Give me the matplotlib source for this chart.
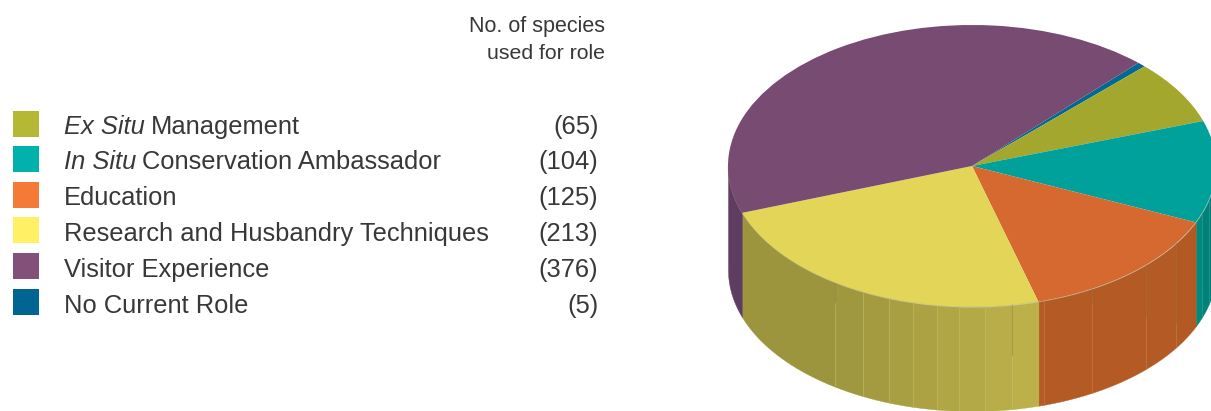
import numpy as np
import matplotlib
matplotlib.use("Agg")
import matplotlib.pyplot as plt
from matplotlib.patches import Rectangle

W, H = 1211, 411

# legend order
italic_parts = ["Ex Situ", "In Situ", "", "", "", ""]
plain_parts = ["Management", "Conservation Ambassador", "Education",
               "Research and Husbandry Techniques", "Visitor Experience", "No Current Role"]
species_counts = [65, 104, 125, 213, 376, 5]
legend_colors = ["#b5b835", "#00b2ab", "#f57a38", "#fff066", "#835079", "#006593"]

# pie order, clockwise from the thin slice
pie_order = [5, 0, 1, 2, 3, 4]
top_colors = {0: "#a4a72e", 1: "#00a19b", 2: "#d5692f", 3: "#e2d558", 4: "#774b72", 5: "#006a94"}
start_angle = 47.0

# ellipse of the pie top, in pixels
cx, cy, rx, ry = 972, 166, 244, 141
depth = 104 / ry

# facets on the front wall: slice -> (seam x in pixels, facet colours)
wall_facets = {
    1: ([1202, 1209], ["#00897f", "#008278", "#007d74"]),
    2: ([1044, 1092, 1146, 1176], ["#b65b24", "#b45a24", "#b45a24", "#b45a24", "#b25924"]),
    3: ([835, 863, 889, 913, 937, 959, 985, 1012],
        ["#9c953e", "#a0983f", "#a49b40", "#a89e42", "#aca243", "#b0a645", "#b4a947", "#b8ad48", "#bbb04a"]),
    4: ([], ["#5f3d60"]),
}
seam_colors = {1: "#2aa098", 2: "#c47a4c", 3: "#c4bb62", 4: "#5f3d60"}
# seams that start out dark below the rim, down to this pixel row
dark_seams = {835: 303, 1012: 355, 1092: 303, 1146: 317, 1176: 324}

fig = plt.figure(figsize=(W / 100, H / 100), dpi=100)
plt.rcParams["font.family"] = ["Liberation Sans", "DejaVu Sans"]

# pie axes: unit circle squashed into the ellipse, y measured upward
ax = fig.add_axes([0, 0, 1, 1])
ax.pie([species_counts[i] for i in pie_order], startangle=start_angle, counterclock=False,
       colors=[top_colors[i] for i in pie_order], wedgeprops={"linewidth": 0, "zorder": 5})
ax.set_aspect("auto")
ax.set_xlim(-cx / rx, (W - cx) / rx)
ax.set_ylim((cy - H) / ry, cy / ry)
ax.axis("off")


def px(x):
    return (x - cx) / rx


# slice boundaries on the ellipse
counts = np.array([species_counts[i] for i in pie_order], dtype=float)
ends = start_angle - np.cumsum(counts) / counts.sum() * 360
starts = np.r_[start_angle, ends[:-1]]

for slice_id, a0, a1 in zip(pie_order, starts, ends):
    if slice_id not in wall_facets:
        continue
    # the visitor slice only shows on the left, up to x=-1
    if slice_id == 4:
        x_start, x_end = -1.0, np.cos(np.radians(a0))
    else:
        x_start, x_end = np.cos(np.radians(a1)), np.cos(np.radians(a0))
        if slice_id == 1:
            x_end = 1.0
    seams, colors = wall_facets[slice_id]
    edges = [x_start] + [px(s) for s in seams] + [x_end]
    for left, right, c in zip(edges[:-1], edges[1:], colors):
        xs = np.linspace(left, right, 60)
        top = -np.sqrt(np.clip(1 - xs ** 2, 0, None))
        ax.fill_between(xs, top, top - depth, color=c, linewidth=0.3, zorder=2)
    for s in seams:
        x = px(s)
        top = -np.sqrt(1 - x ** 2)
        split = top
        if s in dark_seams:
            split = (cy - dark_seams[s]) / ry
            ax.plot([x, x], [top, split], color="#8a6a30", lw=0.8, alpha=0.35, zorder=3)
        ax.plot([x, x], [split, top - depth], color=seam_colors[slice_id], lw=0.8, alpha=0.45, zorder=3)

# thin rim where the top meets the wall
rim = np.linspace(np.radians(180), np.radians(360), 300)
ax.plot(np.cos(rim), np.sin(rim), color="#8a8a6a", lw=0.5, alpha=0.4, zorder=6)

# legend axes in pixel coordinates
lax = fig.add_axes([0, 0, 1, 1])
lax.set_xlim(0, W)
lax.set_ylim(H, 0)
lax.axis("off")
lax.patch.set_alpha(0)

text_color = "#383838"
row_fs = 18.4
row_tops = [111, 146, 182, 217, 253, 289]
row_bases = [134, 169, 205, 241, 277, 313]
renderer = fig.canvas.get_renderer()

for i, top in enumerate(row_tops):
    lax.add_patch(Rectangle((13, top), 26, 26, facecolor=legend_colors[i], edgecolor="none"))
    base = row_bases[i]
    x = 64
    if italic_parts[i]:
        t = lax.text(x, base, italic_parts[i], fontsize=row_fs, style="italic", color=text_color, va="baseline")
        bb = t.get_window_extent(renderer)
        x = bb.x1 + 6
    lax.text(x, base, plain_parts[i], fontsize=row_fs, color=text_color, va="baseline")
    lax.text(598.5, base, "(%d)" % species_counts[i], fontsize=row_fs, color=text_color, ha="right", va="baseline")

lax.text(605, 32, "No. of species", fontsize=15.5, color=text_color, ha="right", va="baseline")
lax.text(605, 59, "used for role", fontsize=15.3, color=text_color, ha="right", va="baseline")

fig.savefig("out.png", dpi=100, facecolor="white")
